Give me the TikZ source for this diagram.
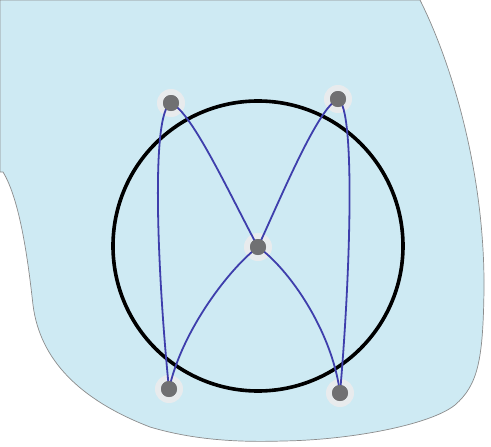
\documentclass[tikz,border=0pt]{standalone}
\begin{document}
\begin{tikzpicture}[x=1pt,y=-1pt,
  region/.style={fill=regionblue,draw=gray!90,line width=0.7pt},
  ring/.style={draw=black,line width=3.6pt},
  wire/.style={draw=wireblue,line width=1.8pt},
  halo/.style={circle,fill=halocol,opacity=0.75,minimum size=28pt,inner sep=0pt},
  dot/.style={circle,fill=dotgray,minimum size=16pt,inner sep=0pt}]
\definecolor{regionblue}{RGB}{206,234,243}
\definecolor{wireblue}{RGB}{62,62,172}
\definecolor{dotgray}{RGB}{112,112,114}
\definecolor{halocol}{RGB}{242,236,236}
\useasboundingbox (0,0) rectangle (491,447);
\fill[white] (0,0) rectangle (491,447);
% light blue region
\path[region] (0,0) -- (420,0) .. controls (455,70) and (485,180) .. (484,290)
  .. controls (483,360) and (478,385) .. (455,405)
  .. controls (430,425) and (350,440) .. (283,441)
  .. controls (250,442) and (200,442) .. (150,427)
  .. controls (80,400) and (40,360) .. (33,305)
  .. controls (28,260) and (20,200) .. (3,172) -- (0,172) -- cycle;
% halos
\foreach \p/\q in {171/103,338/99,258/247,169/389,340/393}
  \node[halo] at (\p,\q) {};
% big circle
\node[ring,circle,minimum size=290pt,inner sep=0pt] (ring) at (258,246) {};
% dots
\node[dot] (tl) at (171,103) {};
\node[dot] (tr) at (338,99) {};
\node[dot] (c) at (258,247) {};
\node[dot] (bl) at (169,389) {};
\node[dot] (br) at (340,393) {};
% wires
\path[wire] (bl.center) .. controls (158,280) and (150,112) .. (tl.center);
\path[wire] (tl.center) .. controls (192,112) and (230,195) .. (c.center);
\path[wire] (c.center) .. controls (230,268) and (182,330) .. (bl.center);
\path[wire] (br.center) .. controls (350,280) and (356,108) .. (tr.center);
\path[wire] (tr.center) .. controls (318,108) and (282,195) .. (c.center);
\path[wire] (c.center) .. controls (288,268) and (332,330) .. (br.center);
% redraw dots on top
\foreach \n in {tl,tr,c,bl,br}
  \fill[dotgray] (\n.center) circle (8pt);
\end{tikzpicture}
\end{document}
